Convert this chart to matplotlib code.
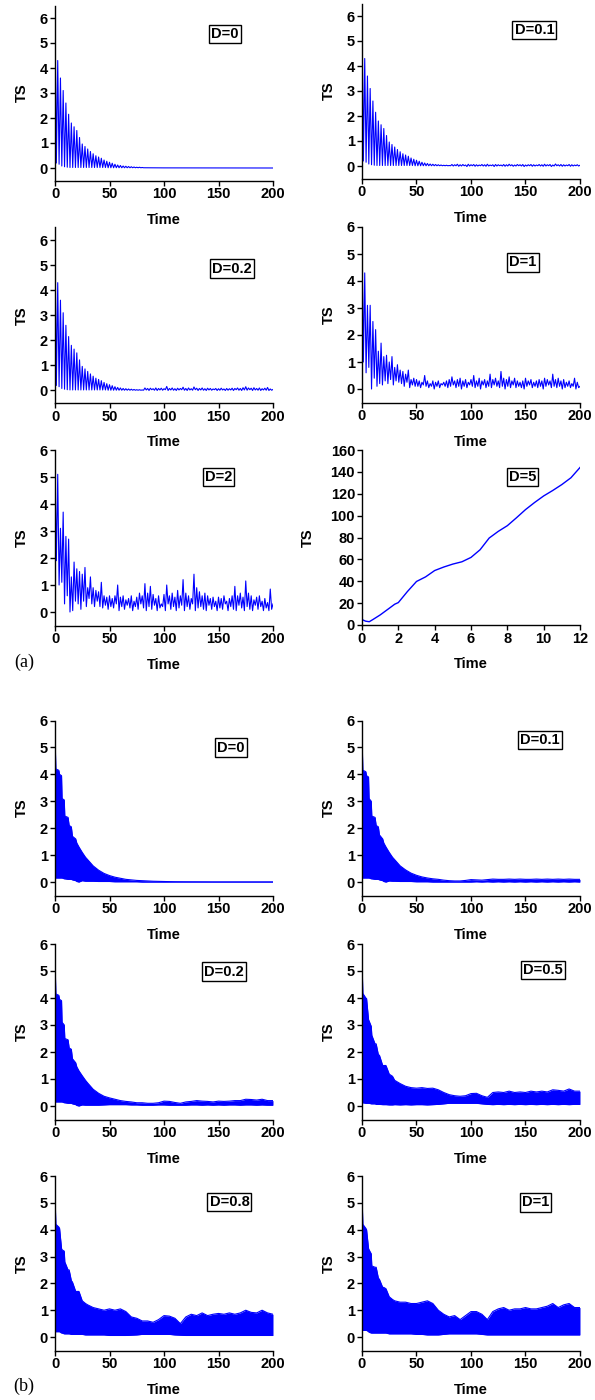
import numpy as np
import matplotlib.pyplot as plt

plt.rcParams['font.family'] = ['Liberation Sans', 'DejaVu Sans']
plt.rcParams['font.weight'] = 'bold'
plt.rcParams['axes.labelweight'] = 'bold'

BLUE = '#0000ff'
W, H = 595, 1400

# ---------------- panel (a) data ----------------
# spikes: highs at t = 0, 2.5, 5 ... ; lows half a step later
A_DECAY_HI = [6.0, 4.3, 3.6, 3.1, 2.6, 2.15, 1.8, 1.65, 1.5, 1.22,
              0.96, 0.86, 0.76, 0.66, 0.57, 0.49, 0.44, 0.39, 0.32, 0.27,
              0.23, 0.19, 0.15, 0.12, 0.1, 0.08, 0.07, 0.06, 0.05, 0.04,
              0.03, 0.03, 0.02]
A_DECAY_LO = [0.2, 0.15, 0.08, 0.05, 0.03, 0.02, 0.02, 0.02, 0.02, 0.02,
              0.02, 0.02, 0.02, 0.02, 0.02, 0.02, 0.02, 0.02, 0.02, 0.01,
              0.01, 0.01, 0.01, 0.01, 0.01, 0.01, 0.01, 0.01, 0.01, 0.01,
              0.01, 0.01, 0.01]

A_D0_TAIL_T = [100, 200]
A_D0_TAIL_Y = [0.005, 0.0]

A_D01_TAIL_HI = [0.06, 0.05, 0.07, 0.05, 0.06, 0.04, 0.07, 0.05, 0.06, 0.05,
                 0.04, 0.06, 0.05, 0.07, 0.04, 0.05, 0.06, 0.05, 0.04, 0.06,
                 0.05, 0.07, 0.05, 0.04, 0.06, 0.05, 0.06, 0.04, 0.05, 0.06,
                 0.05, 0.04, 0.06, 0.05, 0.07, 0.05, 0.06, 0.04, 0.08, 0.05,
                 0.06, 0.05, 0.04, 0.06, 0.05, 0.04, 0.05, 0.03]
A_D01_TAIL_LO = [0.0, 0.01, -0.01, 0.0, 0.01, -0.02, 0.0, 0.01, -0.01, 0.0,
                 0.01, 0.0, -0.01, 0.0, 0.01, -0.02, 0.0, 0.01, 0.0, -0.01,
                 0.0, 0.01, -0.01, 0.0, 0.01, 0.0, -0.02, 0.0, 0.01, -0.01,
                 0.0, 0.01, 0.0, -0.01, 0.0, 0.01, -0.02, 0.0, 0.01, 0.0,
                 -0.01, 0.0, 0.01, -0.01, 0.0, 0.01, 0.0]

A_D02_TAIL_HI = [0.10, 0.08, 0.09, 0.07, 0.10, 0.08, 0.09, 0.07, 0.16, 0.08,
                 0.10, 0.07, 0.09, 0.08, 0.13, 0.08, 0.10, 0.07, 0.14, 0.09,
                 0.08, 0.10, 0.07, 0.09, 0.08, 0.06, 0.08, 0.07, 0.09, 0.06,
                 0.08, 0.07, 0.09, 0.08, 0.10, 0.08, 0.11, 0.15, 0.10, 0.09,
                 0.11, 0.08, 0.10, 0.07, 0.09, 0.12, 0.06, 0.04]
A_D02_TAIL_LO = [0.02, 0.00, 0.03, 0.01, 0.00, 0.02, 0.01, 0.03, 0.00, 0.02,
                 0.01, 0.00, 0.02, 0.03, 0.01, 0.00, 0.02, 0.01, 0.03, 0.00,
                 0.02, 0.01, 0.00, 0.02, 0.01, 0.03, 0.00, 0.01, 0.02, 0.00,
                 0.01, 0.02, 0.00, 0.03, 0.01, 0.00, 0.02, 0.01, 0.03, 0.00,
                 0.02, 0.01, 0.00, 0.02, 0.01, 0.00, 0.01]

A_D1_HI = [5.5, 4.3, 3.1, 3.1, 2.5, 2.2, 1.4, 1.7, 1.2, 1.25,
           1.0, 1.2, 0.8, 0.9, 0.7, 0.65, 0.55, 0.7, 0.35, 0.4,
           0.35, 0.3, 0.25, 0.5, 0.3, 0.2, 0.3, 0.25, 0.3, 0.2,
           0.25, 0.3, 0.35, 0.45, 0.3, 0.35, 0.4, 0.3, 0.35, 0.25,
           0.35, 0.5, 0.3, 0.4, 0.3, 0.35, 0.3, 0.55, 0.35, 0.4,
           0.3, 0.65, 0.4, 0.35, 0.45, 0.3, 0.4, 0.3, 0.25, 0.3,
           0.4, 0.3, 0.35, 0.25, 0.3, 0.35, 0.3, 0.4, 0.35, 0.3,
           0.55, 0.35, 0.4, 0.3, 0.35, 0.25, 0.3, 0.2, 0.4, 0.25,
           0.1]
A_D1_LO = [1.0, 0.6, 0.8, 0.0, 0.4, 0.1, 0.2, 0.15, 0.3, 0.2,
           0.35, 0.15, 0.3, 0.25, 0.2, 0.1, 0.25, 0.05, 0.15, 0.1,
           0.1, 0.05, 0.15, 0.1, 0.05, 0.1, 0.0, 0.1, 0.05, 0.15,
           0.1, 0.05, 0.1, 0.15, 0.05, 0.1, 0.0, 0.1, 0.05, 0.15,
           0.1, 0.05, 0.1, 0.0, 0.15, 0.05, 0.1, 0.05, 0.15, 0.1,
           0.05, 0.1, 0.0, 0.1, 0.05, 0.15, 0.05, 0.1, 0.05, 0.0,
           0.1, 0.15, 0.05, 0.1, 0.05, 0.1, 0.0, 0.1, 0.15, 0.05,
           0.1, 0.05, 0.1, 0.0, 0.05, 0.1, 0.05, 0.1, 0.0, 0.05]

A_D2_HI = [5.3, 5.1, 3.1, 3.7, 2.8, 2.7, 1.3, 1.85, 1.6, 1.5,
           1.4, 1.65, 0.9, 1.3, 0.9, 0.8, 0.75, 1.1, 0.6, 0.55,
           0.6, 0.5, 0.6, 1.0, 0.55, 0.6, 0.45, 0.5, 0.6, 0.4,
           0.55, 0.7, 0.6, 1.05, 0.7, 0.95, 0.65, 0.5, 0.6, 0.3,
           0.65, 1.0, 0.6, 0.7, 0.55, 0.8, 0.6, 1.2, 0.7, 0.6,
           0.5, 1.4, 0.9, 0.75, 0.6, 0.7, 0.6, 0.5, 0.55, 0.4,
           0.55, 0.5, 0.6, 0.4, 0.5, 0.6, 0.95, 0.6, 0.7, 0.55,
           1.15, 0.7, 0.6, 0.45, 0.55, 0.6, 0.4, 0.5, 0.35, 0.85,
           0.3]
A_D2_LO = [1.9, 1.0, 1.1, 0.3, 0.6, 0.0, 0.05, 0.4, 0.3, 0.1,
           0.4, 0.2, 0.5, 0.3, 0.2, 0.4, 0.2, 0.15, 0.25, 0.1,
           0.2, 0.15, 0.3, 0.05, 0.2, 0.1, 0.25, 0.15, 0.05, 0.2,
           0.1, 0.3, 0.15, 0.05, 0.2, 0.1, 0.25, 0.05, 0.15, 0.2,
           0.05, 0.3, 0.1, 0.2, 0.05, 0.15, 0.25, 0.05, 0.2, 0.1,
           0.3, 0.05, 0.15, 0.2, 0.1, 0.05, 0.25, 0.1, 0.2, 0.05,
           0.15, 0.1, 0.3, 0.05, 0.2, 0.1, 0.05, 0.25, 0.15, 0.05,
           0.2, 0.1, 0.05, 0.25, 0.1, 0.2, 0.05, 0.15, 0.05, 0.1]

A_D5_T = [0, 0.2, 0.4, 0.6, 1.0, 1.5, 1.8, 2.0, 2.5, 3.0, 3.5, 4.0, 4.5, 5.0,
          5.5, 6.0, 6.5, 7.0, 7.5, 8.0, 8.5, 9.0, 9.5, 10.0, 10.5, 11.0, 11.5, 12.0]
A_D5_Y = [5, 3.5, 3, 5, 9.2, 15.3, 19, 20.5, 30.6, 39.8, 44, 49.8, 53, 55.7,
          57.8, 61.8, 68.8, 79.5, 85.6, 90.8, 98, 105.5, 112, 118, 123, 128.4, 134.6, 144]

# ---------------- panel (b) data: upper / lower envelope ----------------
B_T = [0, 0.8, 3.5, 4.2, 6, 6.5, 8.5, 9, 12, 13, 15, 16, 19, 20, 22, 25, 28] + list(range(30, 201, 5))

B_D0_UP = [5.5, 4.2, 4.15, 4.0, 3.95, 3.1, 3.05, 2.45, 2.4, 2.1, 2.05, 1.7, 1.6, 1.45, 1.3, 1.1, 0.92,
           0.83, 0.6, 0.44, 0.32, 0.24, 0.18, 0.14, 0.1, 0.08, 0.06,
           0.05, 0.04, 0.03, 0.025, 0.02, 0.015, 0.01, 0.008, 0.006, 0.005,
           0.004, 0.003, 0.002, 0, 0, 0, 0, 0, 0, 0,
           0, 0, 0, 0, 0]
B_D0_LO = [0.15, 0.15, 0.15, 0.15, 0.15, 0.15, 0.12, 0.12, 0.1, 0.1, 0.1, 0.08, 0.05, 0.02, 0.0, 0.05, 0.03,
           0.03, 0.03, 0.02, 0.02, 0.02, 0.01, 0.01, 0.01, 0.01, 0.01,
           0, 0, 0, 0, 0, 0, 0, 0, 0, 0,
           0, 0, 0, 0, 0, 0, 0, 0, 0, 0,
           0, 0, 0, 0, 0]

B_D01_UP = [5.45, 4.15, 4.1, 3.95, 3.9, 3.1, 3.0, 2.45, 2.4, 2.1, 2.05, 1.75, 1.6, 1.45, 1.3, 1.1, 0.92,
            0.83, 0.6, 0.45, 0.33, 0.25, 0.19, 0.15, 0.12, 0.1, 0.07,
            0.05, 0.04, 0.04, 0.06, 0.09, 0.08, 0.07, 0.09, 0.11, 0.1,
            0.1, 0.11, 0.1, 0.11, 0.1, 0.1, 0.11, 0.1, 0.11, 0.1,
            0.11, 0.1, 0.11, 0.1, 0.1]
B_D01_LO = [0.15, 0.15, 0.15, 0.15, 0.15, 0.15, 0.12, 0.12, 0.1, 0.1, 0.1, 0.08, 0.05, 0.02, 0.0, 0.04, 0.03,
            0.03, 0.02, 0.02, 0.02, 0.01, 0.01, 0.01, 0.0, 0.0, 0.0,
            0.0, 0.0, 0.0, 0.0, 0.0, 0.01, 0.0, 0.01, 0.0, 0.01,
            0.0, 0.01, 0.0, 0.01, 0.0, 0.01, 0.0, 0.01, 0.0, 0.01,
            0.0, 0.01, 0.0, 0.01, 0.0]

B_D02_UP = [5.45, 4.15, 4.1, 3.95, 3.9, 3.1, 3.0, 2.5, 2.45, 2.15, 2.1, 1.75, 1.6, 1.45, 1.3, 1.12, 0.95,
            0.85, 0.62, 0.47, 0.36, 0.3, 0.25, 0.2, 0.17, 0.15, 0.12,
            0.12, 0.1, 0.1, 0.12, 0.18, 0.17, 0.13, 0.1, 0.15, 0.17,
            0.2, 0.18, 0.17, 0.15, 0.18, 0.17, 0.18, 0.2, 0.2, 0.25,
            0.24, 0.22, 0.25, 0.2, 0.2]
B_D02_LO = [0.15, 0.15, 0.15, 0.15, 0.15, 0.15, 0.12, 0.12, 0.1, 0.1, 0.1, 0.08, 0.05, 0.02, 0.0, 0.04, 0.03,
            0.03, 0.03, 0.03, 0.04, 0.05, 0.05, 0.05, 0.05, 0.04, 0.04,
            0.03, 0.03, 0.03, 0.04, 0.04, 0.03, 0.03, 0.03, 0.03, 0.04,
            0.04, 0.03, 0.04, 0.03, 0.04, 0.03, 0.04, 0.04, 0.03, 0.04,
            0.04, 0.03, 0.04, 0.03, 0.03]

B_D05_UP = [5.35, 4.17, 4.0, 3.98, 3.2, 3.15, 2.95, 2.62, 2.3, 2.3, 1.9, 1.88, 1.5, 1.5, 1.5, 1.18, 1.1,
            0.95, 0.83, 0.73, 0.68, 0.66, 0.68, 0.65, 0.66, 0.6, 0.5,
            0.42, 0.38, 0.36, 0.38, 0.46, 0.47, 0.38, 0.32, 0.5, 0.52,
            0.5, 0.55, 0.5, 0.52, 0.5, 0.55, 0.52, 0.55, 0.52, 0.6,
            0.58, 0.55, 0.63, 0.55, 0.55]
B_D05_LO = [0.12, 0.12, 0.1, 0.1, 0.1, 0.1, 0.08, 0.08, 0.08, 0.06, 0.06, 0.06, 0.05, 0.05, 0.05, 0.04, 0.04,
            0.05, 0.04, 0.05, 0.04, 0.05, 0.05, 0.04, 0.05, 0.06, 0.08,
            0.1, 0.1, 0.1, 0.1, 0.1, 0.1, 0.08, 0.06, 0.05, 0.06,
            0.05, 0.06, 0.05, 0.06, 0.05, 0.06, 0.05, 0.06, 0.05, 0.06,
            0.05, 0.06, 0.05, 0.06, 0.06]

B_D08_UP = [5.3, 4.2, 4.1, 4.05, 3.3, 3.25, 3.2, 2.8, 2.5, 2.5, 2.1, 2.05, 1.7, 1.7, 1.7, 1.35, 1.25,
            1.2, 1.1, 1.05, 1.0, 1.05, 1.0, 1.05, 0.95, 0.75, 0.7,
            0.6, 0.6, 0.55, 0.65, 0.8, 0.78, 0.7, 0.5, 0.75, 0.85,
            0.8, 0.9, 0.8, 0.85, 0.88, 0.85, 0.9, 0.85, 0.9, 1.0,
            0.92, 0.9, 1.0, 0.9, 0.85]
B_D08_LO = [0.2, 0.2, 0.2, 0.2, 0.15, 0.15, 0.12, 0.12, 0.12, 0.12, 0.1, 0.1, 0.1, 0.1, 0.1, 0.1, 0.08,
            0.08, 0.08, 0.08, 0.08, 0.06, 0.06, 0.06, 0.06, 0.07, 0.08,
            0.1, 0.1, 0.1, 0.1, 0.1, 0.1, 0.08, 0.07, 0.06, 0.06,
            0.06, 0.06, 0.06, 0.06, 0.06, 0.06, 0.06, 0.06, 0.06, 0.06,
            0.06, 0.06, 0.06, 0.06, 0.06]

B_D1_UP = [5.3, 4.2, 4.05, 4.0, 3.3, 3.25, 3.1, 2.65, 2.6, 2.6, 2.2, 2.15, 1.85, 1.85, 1.8, 1.5, 1.4,
           1.35, 1.3, 1.3, 1.25, 1.25, 1.3, 1.35, 1.25, 1.0, 0.85,
           0.75, 0.8, 0.65, 0.8, 0.95, 0.95, 0.85, 0.65, 0.95, 1.05,
           1.1, 1.0, 1.05, 1.05, 1.1, 1.05, 1.05, 1.1, 1.15, 1.25,
           1.1, 1.2, 1.25, 1.1, 1.1]
B_D1_LO = [0.25, 0.25, 0.25, 0.25, 0.2, 0.18, 0.15, 0.15, 0.15, 0.15, 0.15, 0.15, 0.15, 0.15, 0.15, 0.12, 0.12,
           0.12, 0.12, 0.12, 0.12, 0.1, 0.1, 0.08, 0.08, 0.08, 0.1,
           0.12, 0.12, 0.12, 0.12, 0.12, 0.12, 0.1, 0.08, 0.08, 0.08,
           0.08, 0.08, 0.08, 0.08, 0.08, 0.08, 0.08, 0.08, 0.08, 0.08,
           0.08, 0.08, 0.08, 0.08, 0.08]


def zigzag(hi, lo, step=2.5):
    t = np.concatenate([np.arange(len(hi)) * step, np.arange(len(lo)) * step + step / 2])
    y = np.concatenate([hi, lo])
    order = np.argsort(t, kind='stable')
    return t[order], y[order]


def make_ax(fig, x0, x1, ytop, ybot):
    return fig.add_axes([x0 / W, 1 - ybot / H, (x1 - x0) / W, (ybot - ytop) / H])


def style(ax, label, bx, by, ylim=(-0.5, 6), yticks=range(0, 7),
          xlim=(0, 200), xticks=range(0, 201, 50), ypad=8):
    ax.set_xlim(*xlim)
    ax.set_ylim(*ylim)
    ax.set_xticks(list(xticks))
    ax.set_yticks(list(yticks))
    for s in ['top', 'right']:
        ax.spines[s].set_visible(False)
    for s in ['left', 'bottom']:
        ax.spines[s].set_linewidth(1.0)
    ax.tick_params(direction='out', length=3.5, width=1.0, labelsize=10.5, pad=1.5)
    for lbl in ax.get_xticklabels() + ax.get_yticklabels():
        lbl.set_fontweight('bold')
    ax.set_xlabel('Time', fontsize=10.5, fontweight='bold', labelpad=8)
    ax.set_ylabel('TS', fontsize=10.5, fontweight='bold', labelpad=ypad)
    ax.text(bx, by, label, transform=ax.transAxes, ha='center', va='center',
            fontsize=10.5, fontweight='bold',
            bbox=dict(boxstyle='square,pad=0.15', fc='white', ec='black', lw=1.0))


fig = plt.figure(figsize=(W / 100, H / 100), dpi=100)

LX = (55, 273)
RX = (362, 580)

# ---- (a) ----
ax = make_ax(fig, *LX, 5.5, 180.5)
t, y = zigzag(A_DECAY_HI, A_DECAY_LO)
ax.plot(np.r_[t, A_D0_TAIL_T], np.r_[y, A_D0_TAIL_Y], color=BLUE, lw=0.8)
style(ax, 'D=0', 0.78, 0.837, ylim=(-0.5, 6.5))

ax = make_ax(fig, *RX, 3.5, 178.5)
t, y = zigzag(A_DECAY_HI + A_D01_TAIL_HI, A_DECAY_LO + A_D01_TAIL_LO)
ax.plot(t, y, color=BLUE, lw=0.8)
style(ax, 'D=0.1', 0.791, 0.849, ylim=(-0.5, 6.5))

ax = make_ax(fig, *LX, 227.5, 403)
t, y = zigzag(A_DECAY_HI + A_D02_TAIL_HI, A_DECAY_LO + A_D02_TAIL_LO)
ax.plot(t, y, color=BLUE, lw=0.8)
style(ax, 'D=0.2', 0.812, 0.766, ylim=(-0.5, 6.5))

ax = make_ax(fig, *RX, 227, 402.5)
t, y = zigzag(A_D1_HI, A_D1_LO)
ax.plot(t, y, color=BLUE, lw=0.8)
style(ax, 'D=1', 0.739, 0.798)

ax = make_ax(fig, *LX, 450, 625.5)
t, y = zigzag(A_D2_HI, A_D2_LO)
ax.plot(t, y, color=BLUE, lw=0.8)
style(ax, 'D=2', 0.75, 0.846)

ax = make_ax(fig, *RX, 450, 625)
ax.plot(A_D5_T, A_D5_Y, color=BLUE, lw=1.0)
style(ax, 'D=5', 0.736, 0.846, ylim=(0, 160), yticks=range(0, 161, 20),
      xlim=(0, 12), xticks=range(0, 13, 2), ypad=11)

# ---- (b) ----
b_panels = [
    (LX, 720.5, 895.5, B_D0_UP, B_D0_LO, 'D=0', 0.807, 0.845),
    (RX, 720.5, 895.5, B_D01_UP, B_D01_LO, 'D=0.1', 0.817, 0.89),
    (LX, 944, 1119.5, B_D02_UP, B_D02_LO, 'D=0.2', 0.775, 0.843),
    (RX, 944, 1119.5, B_D05_UP, B_D05_LO, 'D=0.5', 0.83, 0.851),
    (LX, 1176, 1350.5, B_D08_UP, B_D08_LO, 'D=0.8', 0.80, 0.851),
    (RX, 1176, 1350.5, B_D1_UP, B_D1_LO, 'D=1', 0.796, 0.849),
]
for xs, yt, yb, up, lo, lab, bx, by in b_panels:
    ax = make_ax(fig, *xs, yt, yb)
    ax.fill_between(B_T, lo, up, color=BLUE, lw=0)
    ax.plot(B_T, up, color=BLUE, lw=0.8)
    ax.plot(B_T, lo, color=BLUE, lw=0.8)
    style(ax, lab, bx, by)

fig.text(24 / W, 1 - 662 / H, '(a)', ha='center', va='center', fontsize=13,
         fontweight='normal', family=['Liberation Serif', 'DejaVu Serif'])
fig.text(24 / W, 1 - 1386 / H, '(b)', ha='center', va='center', fontsize=13,
         fontweight='normal', family=['Liberation Serif', 'DejaVu Serif'])

fig.savefig('out.png', dpi=100)
